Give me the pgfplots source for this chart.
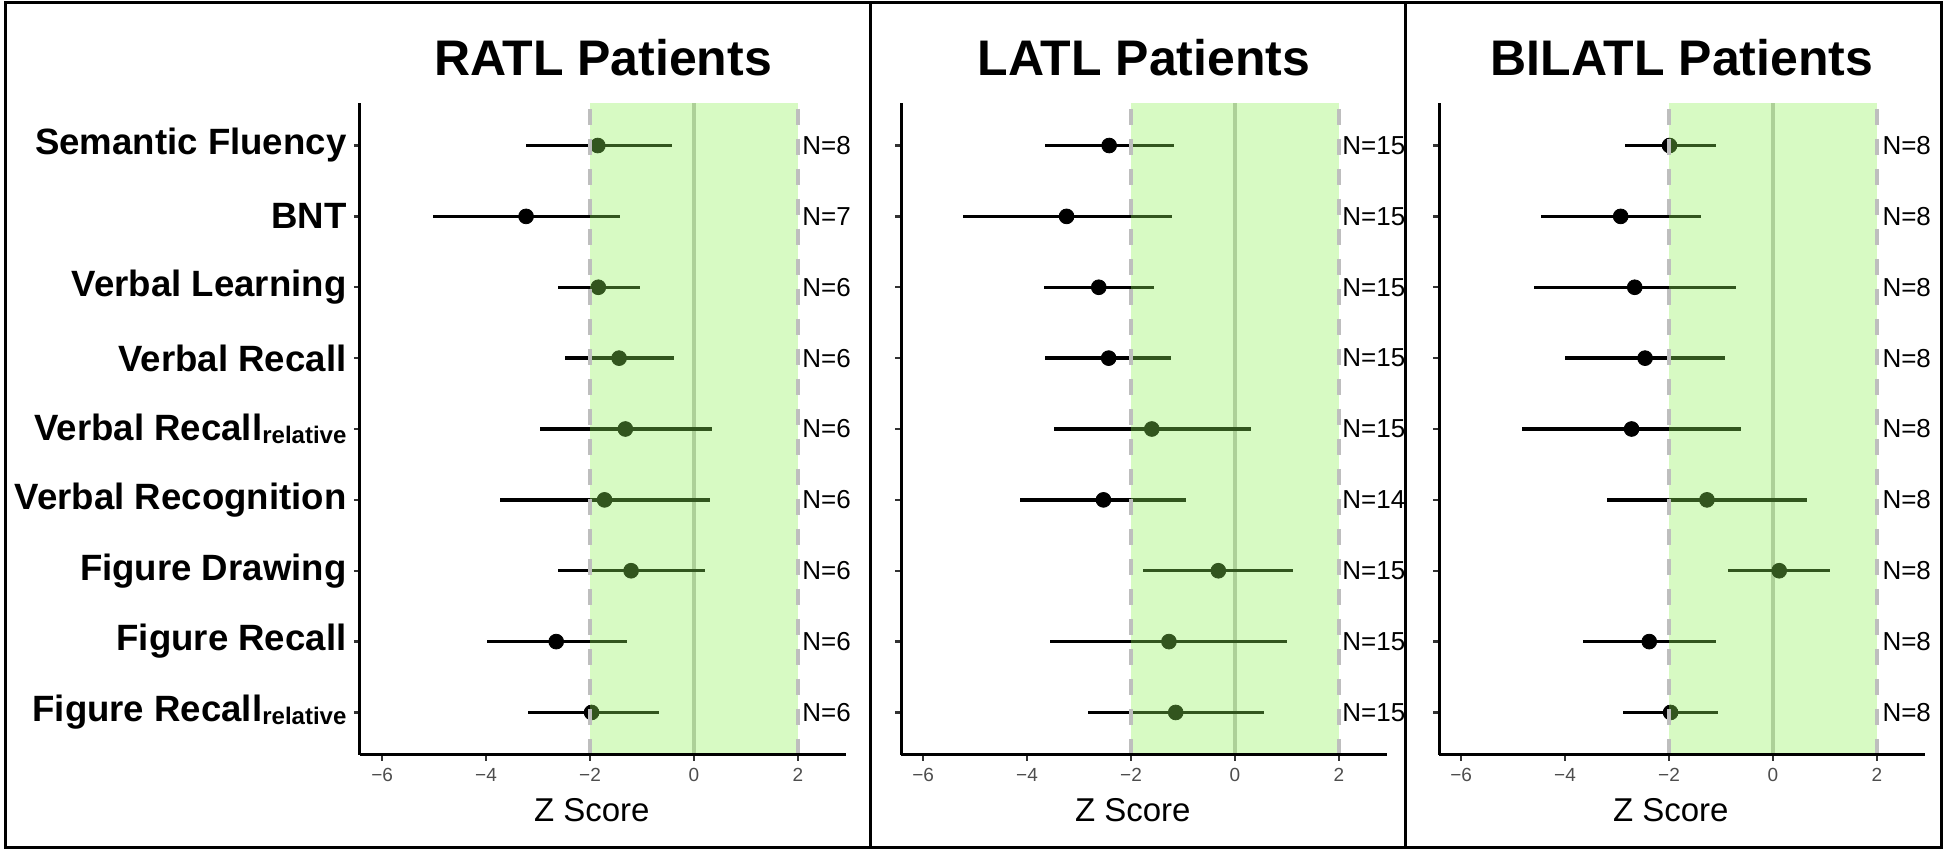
\documentclass[border=0pt]{standalone}
\usepackage{fontspec}
\setmainfont{Liberation Sans}
\usepackage{pgfplots}
\usepackage{pgfplotstable}
\pgfplotsset{compat=1.18}
\definecolor{ovgreen}{RGB}{142,241,85}
\definecolor{dashgray}{RGB}{190,190,190}
\definecolor{tickgray}{RGB}{77,77,77}
\newcommand\rel{\raisebox{-1.5pt}{\fontsize{12}{12}\selectfont relative}}

\pgfplotstableread{
y m lo hi n nx
9 -1.85 -3.24 -0.42 N=8 2.08
8 -3.23 -5.03 -1.42 N=7 2.08
7 -1.84 -2.62 -1.04 N=6 2.08
6 -1.44 -2.49 -0.39 N=6 2.08
5 -1.32 -2.97 0.34 N=6 2.08
4 -1.72 -3.74 0.30 N=6 2.08
3 -1.21 -2.62 0.21 N=6 2.08
2 -2.65 -3.98 -1.28 N=6 2.08
1 -1.97 -3.19 -0.67 N=6 2.08
}\ratl

\pgfplotstableread{
y m lo hi n nx
9 -2.42 -3.66 -1.18 N=15 2.06
8 -3.24 -5.24 -1.22 N=15 2.06
7 -2.62 -3.68 -1.56 N=15 2.06
6 -2.43 -3.65 -1.23 N=15 2.06
5 -1.60 -3.49 0.30 N=15 2.06
4 -2.53 -4.13 -0.95 N=14 2.06
3 -0.32 -1.76 1.12 N=15 2.06
2 -1.27 -3.55 1.01 N=15 2.06
1 -1.14 -2.83 0.55 N=15 2.06
}\latl

\pgfplotstableread{
y m lo hi n nx
9 -1.99 -2.84 -1.10 N=8 2.1
8 -2.93 -4.47 -1.38 N=8 2.1
7 -2.66 -4.60 -0.71 N=8 2.1
6 -2.46 -4.01 -0.92 N=8 2.1
5 -2.72 -4.83 -0.62 N=8 2.1
4 -1.27 -3.19 0.65 N=8 2.1
3 0.12 -0.87 1.09 N=8 2.1
2 -2.38 -3.65 -1.09 N=8 2.1
1 -1.97 -2.88 -1.06 N=8 2.1
}\bilatl

\pgfplotsset{
  panel/.style={
    scale only axis, width=243pt, height=326pt,
    xmin=-6.425, xmax=2.925, ymin=0.4, ymax=9.6,
    axis lines*=left,
    axis line style={line width=1.5pt, black},
    xtick={-6,-4,-2,0,2},
    xticklabels={−6,−4,−2,0,2},
    ytick={1,2,3,4,5,6,7,8,9},
    tick align=outside, major tick length=3pt,
    tick style={line width=1.2pt, color=black!80},
    xticklabel style={font=\fontsize{9.5}{9.5}\selectfont, text=tickgray},
    clip=false, clip marker paths=true, axis on top,
    title style={at={(0.5,1)}, anchor=base, yshift=8pt, font=\bfseries\fontsize{25}{25}\selectfont},
    xlabel={Z Score},
    xlabel style={at={(axis description cs:0.477,0)}, anchor=base, yshift=-33.5pt, font=\fontsize{16.5}{16.5}\selectfont},
  },
}

\newcommand\panelplots[1]{%
  \addplot[dashgray, line width=2.2pt] coordinates {(0,0.4) (0,9.6)};
  \addplot[black, only marks, mark=*, mark size=3.7pt,
    error bars/.cd, x dir=both, x explicit, error mark=none,
    error bar style={line width=1.75pt, black}]
    table[x=m, y=y, x error plus expr=\thisrow{hi}-\thisrow{m}, x error minus expr=\thisrow{m}-\thisrow{lo}] {#1};
  \addplot[draw=none, fill=ovgreen, fill opacity=0.353] coordinates {(-2,0.4) (2,0.4) (2,9.6) (-2,9.6)};
  \addplot[dashgray, line width=2pt, dash pattern=on 8pt off 7pt] coordinates {(-2,0.4) (-2,9.6)};
  \addplot[dashgray, line width=2pt, dash pattern=on 8pt off 7pt] coordinates {(2,0.4) (2,9.6)};
  \addplot[only marks, mark=none, nodes near coords, point meta=explicit symbolic,
    nodes near coords style={anchor=west, inner sep=0pt, font=\fontsize{13}{13}\selectfont, text=black}]
    table[x=nx, y=y, meta=n] {#1};
}

\begin{document}
\begin{tikzpicture}
\useasboundingbox (0,0) rectangle (972.5pt,425.5pt);

\begin{axis}[panel, at={(180pt,48pt)}, anchor=south west,
  title={RATL Patients},
  yticklabels={Figure Recall\rel, Figure Recall, Figure Drawing, Verbal Recognition, Verbal Recall\rel, Verbal Recall, Verbal Learning, BNT, Semantic Fluency},
  yticklabel style={font=\bfseries\fontsize{18.3}{18.3}\selectfont, anchor=east, inner sep=0pt, xshift=-3.6pt},
]
\panelplots{\ratl}
\end{axis}

\begin{axis}[panel, at={(450.5pt,48pt)}, anchor=south west,
  title={LATL Patients}, yticklabels={},
]
\panelplots{\latl}
\end{axis}

\begin{axis}[panel, at={(719.5pt,48pt)}, anchor=south west,
  title={BILATL Patients}, yticklabels={},
]
\panelplots{\bilatl}
\end{axis}

\draw[line width=1.5pt] (2.5pt,1.5pt) rectangle (970.5pt,424pt);
\draw[line width=1.5pt] (435pt,1.5pt) -- (435pt,424pt);
\draw[line width=1.5pt] (702.5pt,1.5pt) -- (702.5pt,424pt);
\end{tikzpicture}
\end{document}
